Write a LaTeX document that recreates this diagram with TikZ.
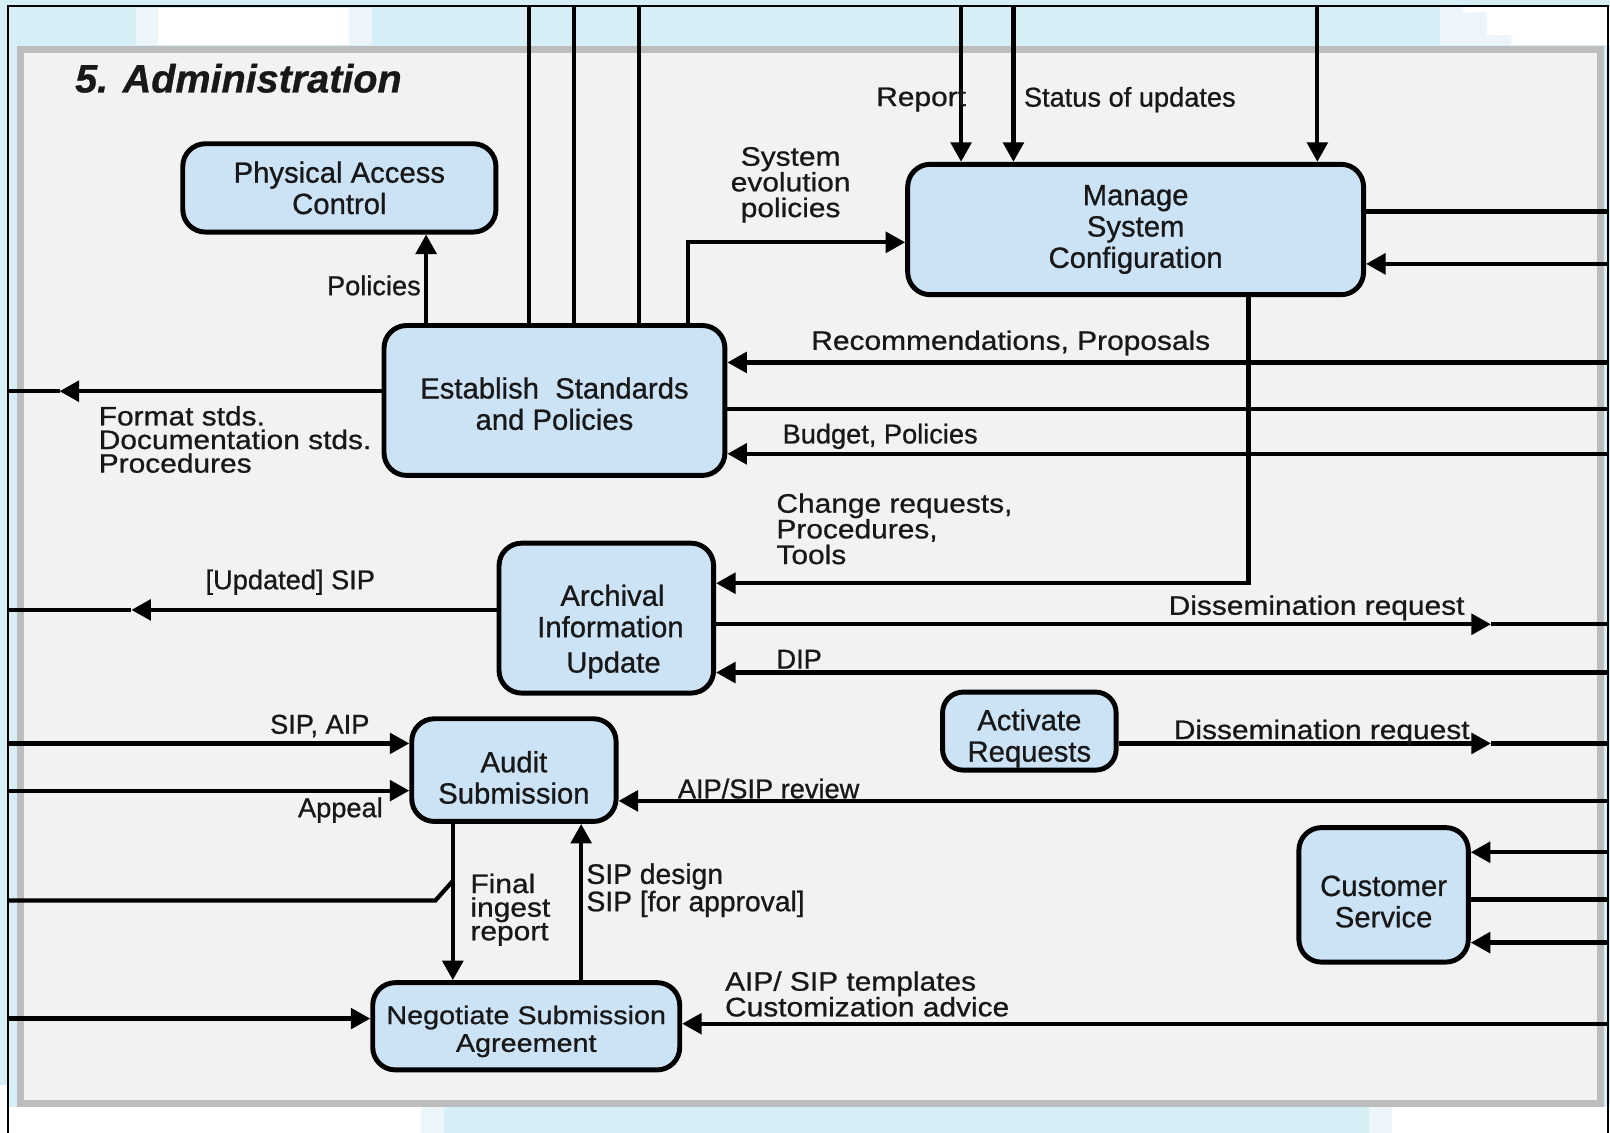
\documentclass[tikz,border=0pt]{standalone}
\usepackage{fontspec}
\setmainfont{Liberation Sans}[FakeBold=0.8]
\newfontfamily\lblwide{Liberation Sans}[FakeStretch=1.12,FakeBold=0.8]
\usetikzlibrary{arrows.meta}

\definecolor{skyband}{RGB}{214,238,246}
\definecolor{skypale}{RGB}{236,246,250}
\definecolor{panel}{RGB}{242,242,242}
\definecolor{rim}{RGB}{189,189,189}
\definecolor{boxfill}{RGB}{204,227,246}
\definecolor{ink}{RGB}{24,24,24}

% invisible strut that lowers the first line of a box caption
\newcommand\capdrop[1]{\rule{0pt}{#1}}

\begin{document}
\begin{tikzpicture}[x=1pt,y=-1pt,
  proc/.style={draw=black, line width=4.8pt, fill=boxfill, rounded corners=22pt,
    align=center, text=ink, inner sep=0pt, font=\fontsize{28.5}{30.5}\selectfont},
  flow/.style={draw=black, line width=4.1pt},
  arr/.style={flow, -{Triangle[length=19pt,width=20pt]}},
  lbl/.style={text=ink, inner sep=0pt, font=\fontsize{26.5}{25}\selectfont},
  wlbl/.style={text=ink, inner sep=0pt, align=left, font=\lblwide\fontsize{26}{25}\selectfont},
]
\useasboundingbox (0,0) rectangle (1568,1103);

% page background and frame
\fill[skyband] (0,0) rectangle (1568,1103);
\fill[skypale] (132,8) rectangle (362,44);
\fill[white] (154,8) rectangle (340,44);
\fill[skypale] (1402,7) rectangle (1568,44);
\fill[white] (1425,7) -- (1568,7) -- (1568,44) -- (1472,44) -- (1472,34)
  -- (1448,34) -- (1448,12) -- (1425,12) -- cycle;
\fill[white] (0,1078) rectangle (410,1103);
\fill[skypale] (410,1078) rectangle (432,1103);
\fill[skypale] (1333,1078) rectangle (1356,1103);
\fill[white] (1356,1078) rectangle (1568,1103);
\fill[white] (0,1057) rectangle (8,1103);
\draw[line width=1.6pt] (8,1103) -- (8,6) -- (1566,6) -- (1566,1103);
\draw[rim, line width=7pt, fill=panel] (20,48.5) rectangle (1559,1074.5);

% title
\node[anchor=base west, text=ink, inner sep=0pt,
  font=\bfseries\itshape\fontsize{38.5}{40}\selectfont] (ttl) at (73,90) {5. Administration};

% processes
\node[proc, minimum width=305pt, minimum height=86pt] (pac) at (330.5,183) {Physical Access\\Control};
\node[proc, minimum width=444pt, minimum height=127pt] (msc) at (1106,223.5) {Manage\\System\\Configuration};
\node[proc, minimum width=332pt, minimum height=146pt] (esp) at (540,390) {\capdrop{27pt}Establish\ \ Standards\\and Policies};
\node[proc, minimum width=209pt, minimum height=146pt] (aiu) at (590.5,602) {\capdrop{47pt}\hspace{12pt}Archival\\\hspace{8pt}Information\\[4pt]\hspace{14pt}Update};
\node[proc, minimum width=199pt, minimum height=100pt] (aud) at (500.5,750) {\capdrop{35pt}Audit\\Submission};
\node[proc, minimum width=169pt, minimum height=76pt, rounded corners=20pt] (act) at (1002.5,712) {\capdrop{35pt}Activate\\Requests};
\node[proc, minimum width=165pt, minimum height=131pt] (cus) at (1347.5,871.5) {\capdrop{33pt}Customer\\Service};
\node[proc, minimum width=299pt, minimum height=85pt,
  font=\lblwide\fontsize{25}{27}\selectfont] (neg) at (512.5,999.5) {\capdrop{28pt}Negotiate Submission\\Agreement};

% flows entering from the top of the page
\coordinate (f1) at (515,6);
\coordinate (f2) at (559,6);
\coordinate (f3) at (622,6);
\draw[flow] (f1) -- (f1 |- esp.north);
\draw[flow] (f2) -- (f2 |- esp.north);
\draw[flow] (f3) -- (f3 |- esp.north);
\coordinate (r1) at (936,6);
\coordinate (r2) at (987,6);
\coordinate (r3) at (1283,6);
\draw[arr] (r1) -- (r1 |- msc.north);
\draw[arr] (r2) -- (r2 |- msc.north);
\draw[arr] (r3) -- (r3 |- msc.north);

% internal flows
\draw[arr] (esp.north -| 415,0) -- (pac.south -| 415,0);
\draw[arr] (esp.north -| 670,0) |- (msc.west |- 0,236);
\draw[arr] (msc.south -| 1216,0) |- (aiu.east |- 0,568);
\draw[arr] (aud.south -| 441,0) -- (neg.north -| 441,0);
\draw[arr] (neg.north -| 566,0) -- (aud.south -| 566,0);

% Manage System Configuration, right side
\coordinate (m1) at (1566,206);
\coordinate (m2) at (1566,257);
\draw[flow] (msc.east |- m1) -- (m1);
\draw[arr] (m2) -- (m2 -| msc.east);

% Establish Standards and Policies, sides
\coordinate (e1) at (1566,353);
\coordinate (e2) at (1566,398);
\coordinate (e3) at (1566,442);
\draw[arr] (e1) -- (e1 -| esp.east);
\draw[flow] (esp.east |- e2) -- (e2);
\draw[arr] (e3) -- (e3 -| esp.east);
\coordinate (e4) at (8,381);
\coordinate (e4t) at (58,381);
\draw[arr] (esp.west |- e4) -- (e4t);
\draw[flow] (e4t) -- (e4);

% Archival Information Update, sides
\coordinate (a1) at (8,594);
\coordinate (a1t) at (128,594);
\draw[arr] (aiu.west |- a1) -- (a1t);
\draw[flow] (a1t) -- (a1);
\coordinate (a2) at (1566,608);
\coordinate (a2t) at (1452,608);
\draw[arr] (aiu.east |- a2) -- (a2t);
\draw[flow] (a2t) -- (a2);
\coordinate (a3) at (1566,655);
\draw[arr] (a3) -- (a3 -| aiu.east);

% Audit Submission
\coordinate (u1) at (8,724);
\coordinate (u2) at (8,770);
\coordinate (u3) at (1566,780);
\draw[arr] (u1) -- (u1 -| aud.west);
\draw[arr] (u2) -- (u2 -| aud.west);
\draw[arr] (u3) -- (u3 -| aud.east);
\coordinate (u4) at (8,877);
\coordinate (ujoin) at (441,858);
\draw[flow] (u4) -- (424,877) -- (ujoin);

% Negotiate Submission Agreement
\coordinate (n1) at (8,992);
\coordinate (n2) at (1566,997);
\draw[arr] (n1) -- (n1 -| neg.west);
\draw[arr] (n2) -- (n2 -| neg.east);

% Activate Requests
\coordinate (v1) at (1566,724);
\coordinate (v1t) at (1452,724);
\draw[arr] (act.east |- v1) -- (v1t);
\draw[flow] (v1t) -- (v1);

% Customer Service
\coordinate (c1) at (1566,830);
\coordinate (c2) at (1566,876);
\coordinate (c3) at (1566,918);
\draw[arr] (c1) -- (c1 -| cus.east);
\draw[flow] (cus.east |- c2) -- (c2);
\draw[arr] (c3) -- (c3 -| cus.east);

% flow labels
\node[lbl, anchor=east] (lpol) at (410,278) {Policies};
\node[wlbl, align=center] (lsys) at (770,180) {System\\evolution\\policies};
\node[wlbl, anchor=east] (lrep) at (941,97) {Report};
\node[lbl, anchor=west] (lsta) at (997,97) {Status of updates};
\node[wlbl, anchor=west] (lrec) at (790,334) {Recommendations, Proposals};
\node[lbl, anchor=west] (lbud) at (762,425) {Budget, Policies};
\node[wlbl, anchor=west, font=\lblwide\fontsize{26}{23}\selectfont] (lfmt) at (96,428)
  {Format stds.\\Documentation stds.\\Procedures};
\node[wlbl, anchor=west] (lchg) at (756,515) {Change requests,\\Procedures,\\Tools};
\node[lbl, anchor=west] (lupd) at (200,567) {[Updated] SIP};
\node[wlbl, anchor=west] (ldis) at (1138,592) {Dissemination request};
\node[lbl, anchor=west] (ldip) at (756,642) {DIP};
\node[lbl, anchor=east] (lsa) at (360,707) {SIP, AIP};
\node[lbl, anchor=east] (lapp) at (373,789) {Appeal};
\node[lbl, anchor=west] (lrev) at (660,768) {AIP/SIP review};
\node[wlbl, anchor=west] (ldis2) at (1143,713) {Dissemination request};
\node[wlbl, anchor=west, font=\lblwide\fontsize{26}{23}\selectfont] (lfin) at (458,886)
  {Final\\ingest\\report};
\node[lbl, anchor=west, align=left, font=\fontsize{27.5}{25}\selectfont] (lsip) at (571,867)
  {SIP design\\SIP [for approval]};
\node[wlbl, anchor=west] (ltmp) at (706,968) {AIP/ SIP templates\\Customization advice};
\end{tikzpicture}
\end{document}
